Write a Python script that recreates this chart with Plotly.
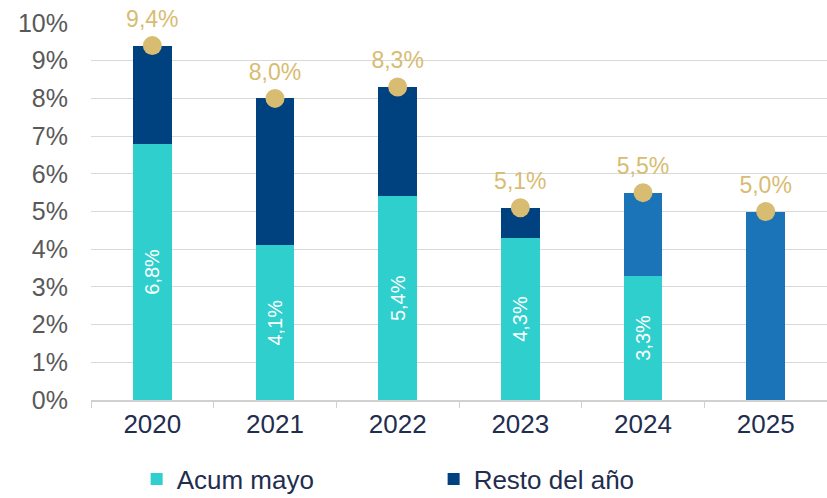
import plotly.graph_objects as go

years = ["2020", "2021", "2022", "2023", "2024", "2025"]
acum_mayo = [6.8, 4.1, 5.4, 4.3, 3.3, None]
resto_anio = [2.6, 3.9, 2.9, 0.8, 2.2, 5.0]
total_anio = [9.4, 8.0, 8.3, 5.1, 5.5, 5.0]
y_ticks = [0, 1, 2, 3, 4, 5, 6, 7, 8, 9, 10]

C_ACUM = "#2ECFCD"
C_RESTO = "#00427F"
C_RESTO_NEW = "#1B74B8"
C_GOLD = "#D8BC72"
C_NAVY_TXT = "#1F2D4F"
FONT = "Liberation Sans, Arial, sans-serif"

def fmt(v):
    return f"{v:.1f}%".replace(".", ",")

resto_colors = [C_RESTO, C_RESTO, C_RESTO, C_RESTO, C_RESTO_NEW, C_RESTO_NEW]

fig = go.Figure()
fig.add_trace(go.Bar(
    x=years, y=acum_mayo, name="Acum mayo",
    marker=dict(color=C_ACUM, line=dict(width=0)),
    text=[fmt(v) if v is not None else "" for v in acum_mayo],
    textposition="inside", insidetextanchor="middle", textangle=-90,
    textfont=dict(color="white", size=20, family=FONT),
    width=0.317, hoverinfo="skip",
))
fig.add_trace(go.Bar(
    x=years, y=resto_anio, name="Resto del año",
    marker=dict(color=resto_colors, line=dict(width=0)),
    width=0.317, hoverinfo="skip",
))
fig.add_trace(go.Scatter(
    x=years, y=total_anio, mode="markers+text", showlegend=False,
    marker=dict(color=C_GOLD, size=19, line=dict(width=0)),
    text=[fmt(t) for t in total_anio], textposition="top center",
    textfont=dict(color=C_GOLD, size=23, family=FONT),
    cliponaxis=False, hoverinfo="skip",
))

fig.update_layout(
    barmode="stack",
    width=827, height=498,
    margin=dict(l=91, r=0, t=23, b=98),
    paper_bgcolor="white", plot_bgcolor="white",
    font=dict(family=FONT),
    showlegend=True,
    legend=dict(orientation="h", x=0.062, xanchor="left",
                yref="container", y=0.038, yanchor="middle",
                font=dict(size=26, color=C_NAVY_TXT, family=FONT),
                entrywidth=252, traceorder="normal"),
    xaxis=dict(range=[-0.5, 5.5], showgrid=False, showline=True, linecolor="#D0D0D0",
               linewidth=1.5, ticks="outside", tickson="boundaries", ticklen=6,
               tickcolor="#D0D0D0", tickfont=dict(size=26, color=C_NAVY_TXT, family=FONT)),
    yaxis=dict(range=[0, 10], tickvals=y_ticks, ticktext=[f"{v}%" for v in y_ticks],
               showgrid=True, gridcolor="#D9D9D9", gridwidth=1.3, zeroline=False,
               showline=False, ticks="", ticklabelstandoff=22,
               tickfont=dict(size=25, color="#595959", family=FONT)),
)

fig.write_html("out.html", config={"displayModeBar": False},
               post_script="document.body.style.margin='0';document.body.style.overflow='hidden';")
